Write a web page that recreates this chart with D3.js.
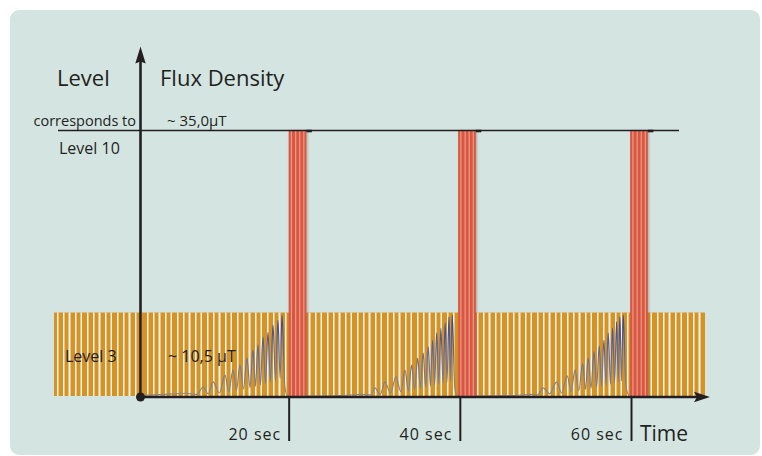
<!DOCTYPE html>
<html><head><meta charset="utf-8">
<script src="https://cdn.jsdelivr.net/npm/d3@7"></script>
<style>
body{margin:0;background:#fff}
svg{display:block}
text{font-family:"Open Sans",sans-serif;fill:#231f20}
</style>
</head><body>
<svg id="c" width="762" height="456"></svg>
<script>
// ---- data ----
const tickSeconds = [20, 40, 60];
const tickLabels = ["20 sec", "40 sec", "60 sec"];
const levelValues = [10, 3.17];
const levelLabels = ["Level 10", "Level 3"];
const fluxLabels = ["~ 35,0µT", "~ 10,5 µT"];
const pulseStarts = [20.0, 39.8, 59.9];
const pulseDuration = 2.07;
// measured signal: [time in s, level]
const signal = [
  [2.63,0.06],[5.5,0.1],[8.0,0.14],[9.3,0.1],[9.99,0.37],[10.6,0.12],[11.16,0.57],[11.9,0.15],
  [12.56,0.82],[13.0,0.2],[13.49,1.01],[13.9,0.25],[14.31,1.2],[14.72,0.3],[15.13,1.46],[15.48,0.35],
  [15.83,1.76],[16.12,0.4],[16.41,1.95],[16.7,0.45],[17.0,2.25],[17.29,0.5],[17.58,2.43],[17.87,0.55],
  [18.17,2.70],[18.46,0.6],[18.75,2.88],[19.0,0.7],[19.22,3.07],[19.55,0.4],[19.85,0.05],
  [22.2,0.03],[26.0,0.05],[28.5,0.1],[29.6,0.08],
  [30.08,0.34],[30.7,0.1],[31.25,0.57],[31.9,0.15],[32.54,0.76],[33.1,0.2],[33.59,1.01],[34.0,0.22],
  [34.37,1.2],[34.72,0.28],[35.07,1.46],[35.4,0.32],[35.72,1.65],[36.0,0.36],[36.31,1.88],[36.57,0.4],
  [36.82,2.13],[37.05,0.44],[37.29,2.40],[37.54,0.48],[37.79,2.58],[38.04,0.52],[38.29,2.77],[38.5,0.56],
  [38.73,3.0],[38.92,0.6],[39.11,3.07],[39.4,0.4],[39.7,0.05],
  [42.1,0.03],[46.0,0.05],[48.5,0.1],[49.1,0.08],
  [49.74,0.34],[50.5,0.12],[51.31,0.57],[51.9,0.15],[52.55,0.79],[53.0,0.2],[53.45,1.01],[53.9,0.24],
  [54.35,1.24],[54.68,0.28],[55.0,1.46],[55.33,0.32],[55.67,1.70],[55.98,0.36],[56.29,1.91],[56.56,0.4],
  [56.83,2.13],[57.08,0.44],[57.34,2.40],[57.6,0.48],[57.85,2.58],[58.08,0.52],[58.32,2.82],[58.51,0.56],
  [58.7,3.0],[58.9,0.6],[59.09,3.07],[59.4,0.4],[59.75,0.05]
];

// ---- drawing ----
const ink = "#231f20";
const svg = d3.select("#c");
const x = d3.scaleLinear().domain([0, 60]).range([117.5, 631]);
const y = d3.scaleLinear().domain([0, 10]).range([397, 130.5]);
const x0 = 140.5;

const defs = svg.append("defs");
const pat = defs.append("pattern").attr("id","stripes").attr("patternUnits","userSpaceOnUse")
  .attr("x",54).attr("y",0).attr("width",30).attr("height",10);
[[3,1.5],[9,1.5],[14.5,2],[21,1.5],[26.5,1.5]].forEach(([o,w]) =>
  pat.append("rect").attr("x",o).attr("y",0).attr("width",w).attr("height",10).attr("fill","#f3f5f0"));
const grad = defs.append("linearGradient").attr("id","wg").attr("gradientUnits","userSpaceOnUse")
  .attr("x1",0).attr("x2",0).attr("y1",y(0)).attr("y2",y(3.1));
grad.append("stop").attr("offset",0).attr("stop-color","#8e8a84");
grad.append("stop").attr("offset",0.45).attr("stop-color","#6d7090");
grad.append("stop").attr("offset",1).attr("stop-color","#34448f");
const f = defs.append("filter").attr("id","sh").attr("x","-30%").attr("width","160%");
f.append("feDropShadow").attr("dx",1.2).attr("dy",0).attr("stdDeviation",1.2)
  .attr("flood-color","#5a4a46").attr("flood-opacity",0.35);

// panel
svg.append("rect").attr("x",10).attr("y",10).attr("width",750).attr("height",445)
  .attr("rx",9).attr("fill","#d4e5e1");

// level-3 band
const bandTop = y(levelValues[1]);
svg.append("rect").attr("x",54).attr("y",bandTop).attr("width",651).attr("height",y(0)-1-bandTop)
  .attr("fill","#d69222");
svg.append("rect").attr("x",54).attr("y",bandTop).attr("width",651).attr("height",y(0)-1-bandTop)
  .attr("fill","url(#stripes)");

// signal
const line = d3.line().x(d => x(d[0])).y(d => y(d[1])).curve(d3.curveMonotoneX);
svg.append("path").datum(signal).attr("d", line).attr("fill","none")
  .attr("stroke","url(#wg)").attr("stroke-width",1.2);

// pulses
const pulses = svg.append("g").selectAll("g").data(pulseStarts).join("g");
pulses.append("rect").attr("x", d => x(d)).attr("y", y(10))
  .attr("width", d => x(d + pulseDuration) - x(d)).attr("height", y(0) - y(10))
  .attr("fill","#d9573f").attr("filter","url(#sh)");
[0.15, 0.39, 0.62, 0.85].forEach(fr => {
  pulses.append("rect").attr("x", d => x(d) + fr * (x(d + pulseDuration) - x(d)) - 0.5)
    .attr("y", y(10)).attr("width", 1.2).attr("height", y(0) - y(10)).attr("fill","#eb9c88");
});

// level 10 reference line
svg.append("line").attr("x1",58).attr("x2",679).attr("y1",y(10)).attr("y2",y(10))
  .attr("stroke",ink).attr("stroke-width",1.3);
pulses.append("rect").attr("x", d => x(d + pulseDuration)).attr("y", y(10) - 0.8)
  .attr("width",5.5).attr("height",2.6).attr("fill",ink);

// axes
svg.append("line").attr("x1",x0).attr("x2",x0).attr("y1",y(0)).attr("y2",60)
  .attr("stroke",ink).attr("stroke-width",2.6);
svg.append("path").attr("d",`M${x0},46.5L${x0-5.2},63.5L${x0},61.5L${x0+5.2},63.5Z`).attr("fill",ink);
svg.append("line").attr("x1",x0).attr("x2",698).attr("y1",y(0)).attr("y2",y(0))
  .attr("stroke",ink).attr("stroke-width",2.4);
svg.append("path").attr("d",`M710,${y(0)}L694,${y(0)-5.2}L697,${y(0)}L694,${y(0)+5.2}Z`).attr("fill",ink);
svg.append("circle").attr("cx",x0).attr("cy",y(0)).attr("r",4.5).attr("fill",ink);

const ax = svg.append("g").attr("transform",`translate(0,${y(0)})`)
  .call(d3.axisBottom(x).tickValues(tickSeconds).tickSize(44).tickFormat((d,i) => tickLabels[i]));
ax.select(".domain").remove();
ax.selectAll(".tick line").attr("stroke",ink).attr("stroke-width",2);
ax.selectAll(".tick text").attr("x",-8).attr("y",43).attr("dy",0).attr("text-anchor","end")
  .attr("fill",ink).style("font-family",'"Open Sans",sans-serif').style("font-size","16px")
  .style("letter-spacing","1px");

// texts
const T = (tx, ty, s, size, anchor) => svg.append("text").attr("x",tx).attr("y",ty)
  .attr("text-anchor",anchor || "start").style("font-size",size + "px").text(s);
T(57, 86, "Level", 22);
T(160, 86, "Flux Density", 22);
T(136, y(10) - 4.5, "corresponds to", 14.5, "end");
T(167, y(10) - 4.5, fluxLabels[0], 15);
T(59, y(10) + 23, levelLabels[0], 16);
T(65, 362, levelLabels[1], 16);
T(168, 362, fluxLabels[1], 16);
T(640, 441, "Time", 21);
</script>
</body></html>
